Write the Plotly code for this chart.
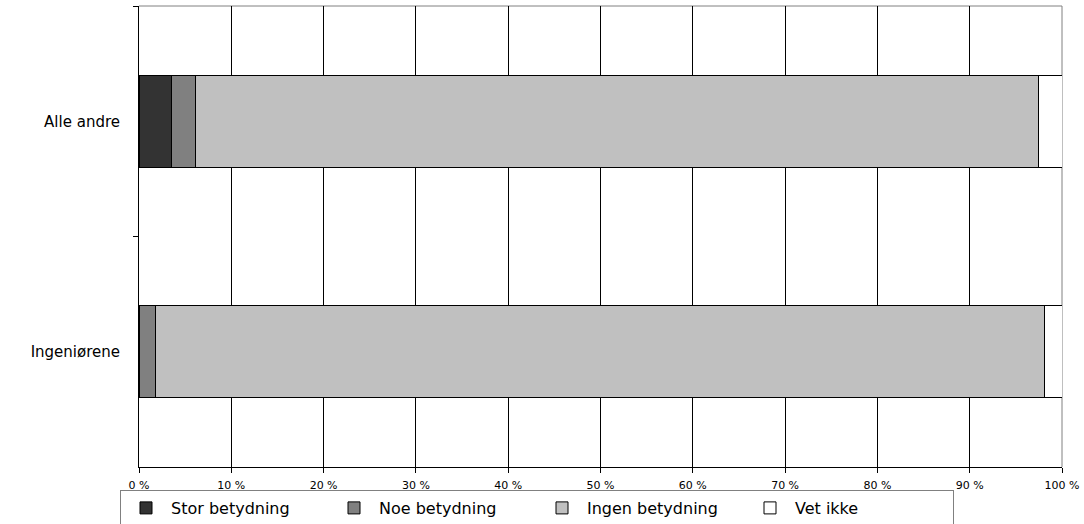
import plotly.graph_objects as go

categories = ["Alle andre", "Ingeniørene"]
series_names = ["Stor betydning", "Noe betydning", "Ingen betydning", "Vet ikke"]
stor = [3.5, 0.0]
noe = [2.6, 1.8]
ingen = [91.3, 96.3]
vet_ikke = [2.6, 1.9]
series_values = [stor, noe, ingen, vet_ikke]
colors = ["#333333", "#808080", "#C0C0C0", "#FFFFFF"]
tick_vals = [0, 10, 20, 30, 40, 50, 60, 70, 80, 90, 100]
tick_text = [f"{v} %" for v in tick_vals]

fig = go.Figure()
for name, vals, col in zip(series_names, series_values, colors):
    fig.add_trace(go.Bar(
        y=categories, x=vals, name=name, orientation="h",
        marker=dict(color=col, line=dict(color="#000000", width=1)),
    ))

W, H = 1084, 524
ml, mr, mt, mb = 139, 22, 6, 57
ph = H - mt - mb

fig.update_layout(
    width=W, height=H,
    margin=dict(l=ml, r=mr, t=mt, b=mb, autoexpand=False),
    barmode="stack", bargap=0.6,
    plot_bgcolor="#FFFFFF", paper_bgcolor="#FFFFFF",
    font=dict(family="DejaVu Sans, sans-serif", color="#000000"),
    showlegend=True,
    legend=dict(
        orientation="h", x=(120 - ml) / (W - ml - mr), y=-23 / ph,
        xanchor="left", yanchor="top",
        bordercolor="#808080", borderwidth=1,
        font=dict(size=16, family="DejaVu Sans, sans-serif"),
        itemwidth=40,
        entrywidth=153, entrywidthmode="pixels",
        traceorder="normal",
    ),
    xaxis=dict(
        range=[0, 100], tickvals=tick_vals, ticktext=tick_text,
        showgrid=True, gridcolor="#000000", gridwidth=1,
        showline=True, linecolor="#000000", linewidth=1,
        ticks="outside", ticklen=5, tickcolor="#000000",
        tickfont=dict(size=11, family="DejaVu Sans, sans-serif"),
        ticklabelstandoff=3,
        zeroline=False, fixedrange=True,
    ),
    yaxis=dict(
        autorange="reversed", type="category",
        showline=True, linecolor="#000000", linewidth=1,
        ticks="outside", ticklen=5, tickcolor="#000000", tickson="boundaries",
        tickfont=dict(size=15, family="DejaVu Sans, sans-serif"),
        ticklabelstandoff=15,
        showgrid=False, zeroline=False, fixedrange=True,
    ),
    shapes=[
        dict(type="line", xref="paper", yref="paper", x0=0, x1=1, y0=1, y1=1,
             layer="below", line=dict(color="#808080", width=1)),
        dict(type="line", xref="paper", yref="paper", x0=1, x1=1, y0=0, y1=1,
             layer="below", line=dict(color="#808080", width=1)),
    ],
)

fig.write_html("out.html")
